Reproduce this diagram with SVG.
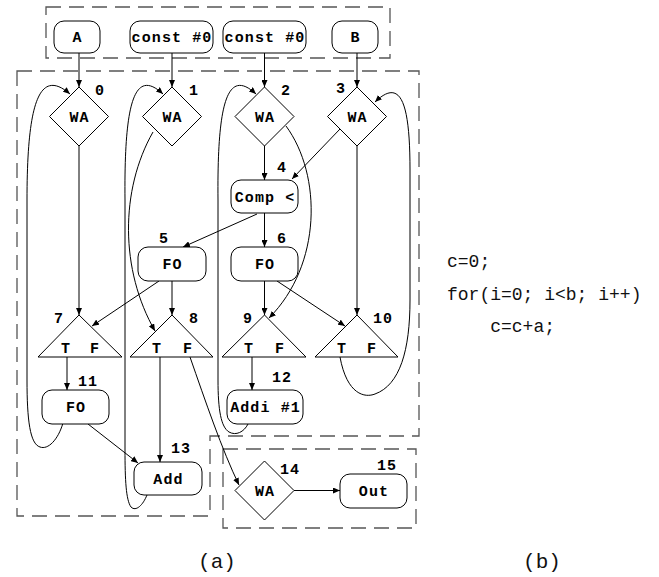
<svg xmlns="http://www.w3.org/2000/svg" width="659" height="577" viewBox="0 0 659 577">
<style>
.nd{fill:#fff;stroke:#000;stroke-width:1}
.lb{font-family:"Liberation Mono","Courier New",monospace;font-weight:bold;font-size:15px;letter-spacing:1.1px;fill:#000;text-anchor:middle}
.num{font-family:"Liberation Mono","Courier New",monospace;font-weight:bold;font-size:15px;letter-spacing:1.1px;fill:#000;text-anchor:middle}
.ed{fill:none;stroke:#000;stroke-width:1;marker-end:url(#ah)}
.dash{fill:none;stroke:#555;stroke-width:1.3;stroke-dasharray:15 8}
.code{font-family:"Liberation Mono","Courier New",monospace;font-size:18px;fill:#111}
.cap{font-family:"Liberation Mono","Courier New",monospace;font-size:21px;fill:#111;text-anchor:middle}
</style>
<defs>
<marker id="ah" markerUnits="userSpaceOnUse" markerWidth="8" markerHeight="6" refX="7" refY="3" orient="auto">
<path d="M0,0 L7,3 L0,6 z" fill="#000"/>
</marker>
</defs>
<g id="regions">
<rect class="dash" x="46" y="7" width="344" height="51"/>
<path class="dash" d="M17,71 H419 V436 H210 V516 H17 Z"/>
<rect class="dash" x="223" y="449" width="193" height="79"/>
</g>
<g id="connectors">
<path class="ed" d="M79,53 L79,87"/>
<path class="ed" d="M172,53 L172,87"/>
<path class="ed" d="M264.5,53 L264.5,87"/>
<path class="ed" d="M357,53 L357,87"/>
<path class="ed" d="M79,146 L79,315"/>
<path class="ed" d="M264.5,146 L264.5,180"/>
<path class="ed" d="M357,146 L357,315"/>
<path class="ed" d="M340,129 L292,179"/>
<path class="ed" d="M264.5,213 L264.5,247"/>
<path class="ed" d="M257,214 L183,247"/>
<path class="ed" d="M172,281 L172,315"/>
<path class="ed" d="M264.5,281 L264.5,315"/>
<path class="ed" d="M159,281 L92,326"/>
<path class="ed" d="M277,281 L345,326"/>
<path class="ed" d="M153,132 C120,190 120,270 155,331"/>
<path class="ed" d="M286,126 C322,175 322,265 269,318"/>
<path class="ed" d="M67,357 L67,390"/>
<path class="ed" d="M160,357 L160,462"/>
<path class="ed" d="M252,357 L252,390"/>
<path class="ed" d="M190,357 C205,400 222,450 239,485"/>
<path class="ed" d="M88,424 L138,463"/>
<path class="ed" d="M294,490.5 L340,490.5"/>
<path class="ed" d="M63,423 C58,440 48,450 40,447 C30,444 27,420 27,380 L27,200 C27,100 40,68 70,94"/>
<path class="ed" d="M147,495 C143,505 136,512 131,507 C126,500 125,480 125,450 L125,200 C124,100 135,68 163,94"/>
<path class="ed" d="M248,424 C244,432 236,436 229,432 C221,427 218,410 218,380 L218,200 C217,100 228,68 256,94"/>
<path class="ed" d="M340,357 C347,395 365,398 375,394 C400,385 410,350 410,300 L410,170 C410,100 400,78 375,102"/>
</g>
<g id="nA"><rect class="nd" x="54" y="21" width="46" height="32" rx="10"/><text class="lb" x="77.5" y="42">A</text></g>
<g id="nC1"><rect class="nd" x="130" y="21" width="83" height="32" rx="10"/><text class="lb" x="172" y="42">const #0</text></g>
<g id="nC2"><rect class="nd" x="223" y="21" width="83" height="32" rx="10"/><text class="lb" x="265" y="42">const #0</text></g>
<g id="nB"><rect class="nd" x="332" y="21" width="46" height="32" rx="10"/><text class="lb" x="355.5" y="42">B</text></g>
<g id="n0"><path class="nd" d="M79,87 L108.5,116.5 L79,146 L49.5,116.5 Z"/><text class="lb" x="79.5" y="121.5">WA</text><text class="num" x="100" y="95">0</text></g>
<g id="n1"><path class="nd" d="M172,87 L201.5,116.5 L172,146 L142.5,116.5 Z"/><text class="lb" x="172.5" y="121.5">WA</text><text class="num" x="194" y="95">1</text></g>
<g id="n2"><path class="nd" d="M264.5,87 L294,116.5 L264.5,146 L235,116.5 Z"/><text class="lb" x="265" y="121.5">WA</text><text class="num" x="286" y="95">2</text></g>
<g id="n3"><path class="nd" d="M357,87 L386.5,116.5 L357,146 L327.5,116.5 Z"/><text class="lb" x="357.5" y="121.5">WA</text><text class="num" x="341" y="93">3</text></g>
<g id="n4"><rect class="nd" x="231" y="180" width="67" height="33" rx="10"/><text class="lb" x="265" y="201.5">Comp &lt;</text><text class="num" x="282" y="172">4</text></g>
<g id="n5"><rect class="nd" x="138" y="247" width="68" height="34" rx="10"/><text class="lb" x="172.5" y="269">FO</text><text class="num" x="164" y="243">5</text></g>
<g id="n6"><rect class="nd" x="231" y="247" width="67" height="34" rx="10"/><text class="lb" x="265" y="269">FO</text><text class="num" x="282" y="243">6</text></g>
<g id="n7"><path class="nd" d="M79,315 L122,357 L38,357 Z"/><text class="lb" x="66" y="353">T</text><text class="lb" x="95" y="353">F</text><text class="num" x="59" y="323">7</text></g>
<g id="n8"><path class="nd" d="M172,315 L213,357 L130,357 Z"/><text class="lb" x="157" y="353">T</text><text class="lb" x="188" y="353">F</text><text class="num" x="194" y="323">8</text></g>
<g id="n9"><path class="nd" d="M264.5,315 L306,357 L222,357 Z"/><text class="lb" x="249" y="353">T</text><text class="lb" x="280" y="353">F</text><text class="num" x="248" y="323">9</text></g>
<g id="n10"><path class="nd" d="M357,315 L398,357 L315,357 Z"/><text class="lb" x="342" y="353">T</text><text class="lb" x="372" y="353">F</text><text class="num" x="383" y="323">10</text></g>
<g id="n11"><rect class="nd" x="42" y="390" width="67" height="34" rx="10"/><text class="lb" x="76" y="412">FO</text><text class="num" x="88" y="386">11</text></g>
<g id="n12"><rect class="nd" x="227" y="390" width="76" height="34" rx="10"/><text class="lb" x="265.5" y="412">Addi #1</text><text class="num" x="282" y="382">12</text></g>
<g id="n13"><rect class="nd" x="134" y="462" width="68" height="33" rx="10"/><text class="lb" x="168.5" y="483.5">Add</text><text class="num" x="181" y="453">13</text></g>
<g id="n14"><path class="nd" d="M264.5,461 L294,490.5 L264.5,520 L235,490.5 Z"/><text class="lb" x="265" y="495.5">WA</text><text class="num" x="290" y="474">14</text></g>
<g id="n15"><rect class="nd" x="340" y="474" width="67" height="34" rx="10"/><text class="lb" x="374" y="496">Out</text><text class="num" x="387" y="470">15</text></g>
<g id="code">
<text class="code" x="447" y="267">c=0;</text>
<text class="code" x="447" y="300">for(i=0; i&lt;b; i++)</text>
<text class="code" x="447" y="332" xml:space="preserve">    c=c+a;</text>
</g>
<g id="captions">
<text class="cap" x="217" y="568">(a)</text>
<text class="cap" x="542" y="568">(b)</text>
</g>
</svg>
